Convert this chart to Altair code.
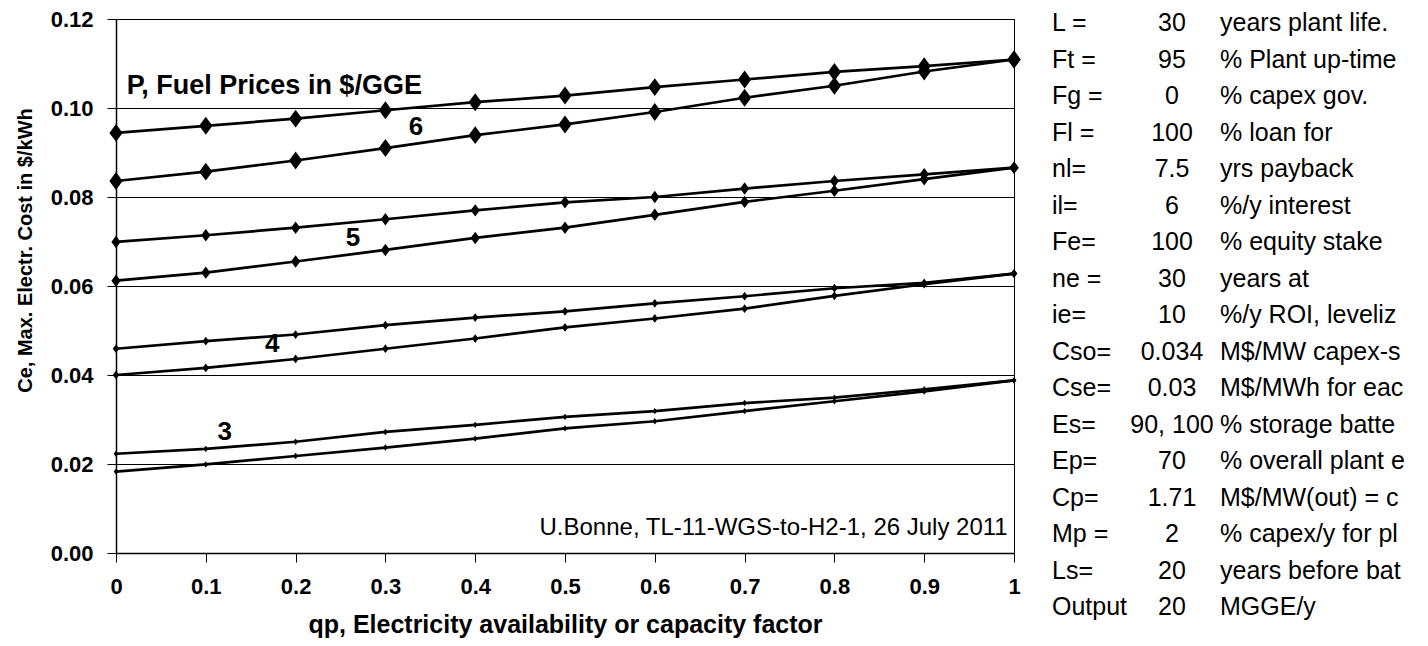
import altair as alt
import pandas as pd

FONT = "Liberation Sans"

# ---- data ----
qp = [0.0, 0.1, 0.2, 0.3, 0.4, 0.5, 0.6, 0.7, 0.8, 0.9, 1.0]

ce_p6_es100 = [0.0944, 0.0960, 0.0976, 0.0995, 0.1013, 0.1028, 0.1047, 0.1064, 0.1081, 0.1094, 0.1109]
ce_p6_es90 = [0.0836, 0.0857, 0.0882, 0.0910, 0.0939, 0.0963, 0.0991, 0.1023, 0.1050, 0.1082, 0.1109]
ce_p5_es100 = [0.0699, 0.0714, 0.0731, 0.0750, 0.0770, 0.0788, 0.0800, 0.0819, 0.0836, 0.0851, 0.0866]
ce_p5_es90 = [0.0612, 0.0630, 0.0655, 0.0681, 0.0708, 0.0731, 0.0760, 0.0789, 0.0814, 0.0840, 0.0866]
ce_p4_es100 = [0.0459, 0.0476, 0.0491, 0.0512, 0.0529, 0.0543, 0.0561, 0.0577, 0.0595, 0.0607, 0.0628]
ce_p4_es90 = [0.0400, 0.0416, 0.0436, 0.0459, 0.0482, 0.0507, 0.0527, 0.0549, 0.0578, 0.0604, 0.0628]
ce_p3_es100 = [0.0223, 0.0234, 0.0250, 0.0272, 0.0288, 0.0306, 0.0319, 0.0337, 0.0349, 0.0368, 0.0388]
ce_p3_es90 = [0.0183, 0.0199, 0.0218, 0.0237, 0.0257, 0.0280, 0.0296, 0.0319, 0.0341, 0.0363, 0.0388]

fuel_prices = [3, 4, 5, 6]
marker_sizes = [22, 42, 85, 175]

y_ticks = [0.0, 0.02, 0.04, 0.06, 0.08, 0.10, 0.12]
x_ticks = [0.0, 0.1, 0.2, 0.3, 0.4, 0.5, 0.6, 0.7, 0.8, 0.9, 1.0]

# in-plot annotations (data coordinates)
ann_text = ["6", "5", "4", "3"]
ann_x = [0.334, 0.264, 0.174, 0.121]
ann_y = [0.0957, 0.0708, 0.0470, 0.0272]
title_text = ["P, Fuel Prices in $/GGE"]
title_x = [0.012]
title_y = [0.1049]
credit_text = ["U.Bonne, TL-11-WGS-to-H2-1, 26 July 2011"]
credit_x = [0.993]
credit_y = [0.0056]

# parameter table at right
tab_label = ["L =", "Ft =", "Fg =", "Fl =", "nl=", "il=", "Fe=", "ne =", "ie=",
             "Cso=", "Cse=", "Es=", "Ep=", "Cp=", "Mp =", "Ls=", "Output"]
tab_value = ["30", "95", "0", "100", "7.5", "6", "100", "30", "10",
             "0.034", "0.03", "90, 100", "70", "1.71", "2", "20", "20"]
tab_desc = ["years plant life.", "% Plant up-time", "% capex gov.", "% loan for",
            "yrs payback", "%/y interest", "% equity stake", "years at",
            "%/y ROI, leveliz", "M$/MW capex-s", "M$/MWh for eac",
            "% storage batte", "% overall plant e", "M$/MW(out) = c",
            "% capex/y for pl", "years before bat", "MGGE/y"]

# ---- build tables ----
series = [
    (6, 100, ce_p6_es100), (6, 90, ce_p6_es90),
    (5, 100, ce_p5_es100), (5, 90, ce_p5_es90),
    (4, 100, ce_p4_es100), (4, 90, ce_p4_es90),
    (3, 100, ce_p3_es100), (3, 90, ce_p3_es90),
]
rows = []
for p, es, vals in series:
    for q, v in zip(qp, vals):
        rows.append({"qp": q, "ce": v, "P": p, "Es": es, "series": f"P={p}, Es={es}%"})
df = pd.DataFrame(rows)

df_ann = pd.DataFrame({"text": ann_text, "x": ann_x, "y": ann_y})
df_title = pd.DataFrame({"text": title_text, "x": title_x, "y": title_y})
df_credit = pd.DataFrame({"text": credit_text, "x": credit_x, "y": credit_y})
df_tab = pd.DataFrame({"row": list(range(len(tab_label))), "label": tab_label,
                       "value": tab_value, "desc": tab_desc})

xscale = alt.Scale(domain=[0, 1], nice=False, zero=False)
yscale = alt.Scale(domain=[0, 0.12], nice=False, zero=False)

x_axis = alt.Axis(
    values=x_ticks, format="~g", labelFont=FONT, labelFontSize=22, labelFontWeight="bold",
    labelColor="black", labelPadding=14, labelFlush=False, labelOverlap=False,
    tickSize=9, tickColor="black", tickWidth=1, domainColor="black", domainWidth=1.5,
    grid=False, title="qp, Electricity availability or capacity factor",
    titleFont=FONT, titleFontSize=25, titleFontWeight="bold", titleColor="black",
    titleY=79, titleBaseline="alphabetic",
)
y_axis = alt.Axis(
    values=y_ticks, format=".2f", labelFont=FONT, labelFontSize=22, labelFontWeight="bold",
    labelColor="black", labelPadding=14, labelFlush=False, labelOverlap=False,
    tickSize=9, tickColor="black", tickWidth=1, domainColor="black", domainWidth=1.5,
    grid=True, gridColor="black", gridWidth=1, gridOpacity=1,
    title="Ce, Max. Electr. Cost in $/kWh", titleFont=FONT, titleFontSize=20,
    titleFontWeight="bold", titleColor="black", titleX=-85, titleY=231,
    titleBaseline="alphabetic", titleAlign="center",
)

base = alt.Chart(df)
lines = base.mark_line(color="black", strokeWidth=2.7).encode(
    x=alt.X("qp:Q", scale=xscale, axis=x_axis),
    y=alt.Y("ce:Q", scale=yscale, axis=y_axis),
    detail="series:N",
)
DIAMOND = "M0,-1.35L1,0L0,1.35L-1,0Z"
point_layers = []
for p, s in zip(fuel_prices, marker_sizes):
    point_layers.append(
        base.transform_filter(alt.datum.P == p)
        .mark_point(shape=DIAMOND, filled=True, color="black", opacity=1, size=s, strokeWidth=0)
        .encode(x=alt.X("qp:Q", scale=xscale), y=alt.Y("ce:Q", scale=yscale))
    )

ann = alt.Chart(df_ann).mark_text(font=FONT, fontSize=26, fontWeight="bold", color="black",
                                  align="center", baseline="middle").encode(
    x=alt.X("x:Q", scale=xscale), y=alt.Y("y:Q", scale=yscale), text="text:N")
ttl = alt.Chart(df_title).mark_text(font=FONT, fontSize=27, fontWeight="bold", color="black",
                                    align="left", baseline="middle").encode(
    x=alt.X("x:Q", scale=xscale), y=alt.Y("y:Q", scale=yscale), text="text:N")
credit = alt.Chart(df_credit).mark_text(font=FONT, fontSize=24, color="black",
                                        align="right", baseline="middle").encode(
    x=alt.X("x:Q", scale=xscale), y=alt.Y("y:Q", scale=yscale), text="text:N")

plot = alt.layer(lines, *point_layers, ann, ttl, credit)

row_scale = alt.Scale(domain=[-0.1096, 14.5205], reverse=True, nice=False, zero=False)
tab_y = alt.Y("row:Q", scale=row_scale, axis=None)
tab_base = alt.Chart(df_tab)
t_label = tab_base.mark_text(font=FONT, fontSize=25, color="black", align="left",
                             baseline="middle").encode(x=alt.value(936), y=tab_y, text="label:N")
t_value = tab_base.mark_text(font=FONT, fontSize=25, color="black", align="center",
                             baseline="middle").encode(x=alt.value(1056), y=tab_y, text="value:N")
t_desc = tab_base.mark_text(font=FONT, fontSize=25, color="black", align="left",
                            baseline="middle").encode(x=alt.value(1104), y=tab_y, text="desc:N")
table = alt.layer(t_label, t_value, t_desc)

chart = alt.layer(plot, table).resolve_scale(y="independent").properties(
    width=898, height=534,
    padding={"left": 108, "top": 11, "right": 406, "bottom": 85},
    autosize=alt.AutoSizeParams(type="none"),
    background="white",
).configure_view(stroke="black", strokeWidth=1)

chart.save("out.html", embed_options={"renderer": "svg", "actions": False})
